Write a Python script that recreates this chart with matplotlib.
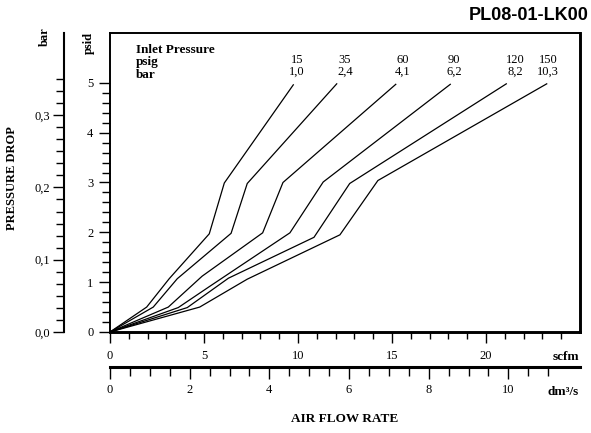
import numpy as np
import matplotlib.pyplot as plt
from matplotlib.ticker import FixedLocator

W, H = 591, 433
PSI_TO_BAR = 0.0689476
SCFM_TO_DM3S = 0.471947

# inlet pressure of each curve
inlet_psig = ["15", "35", "60", "90", "120", "150"]
inlet_bar = ["1,0", "2,4", "4,1", "6,2", "8,2", "10,3"]

# air flow (scfm) and pressure drop (psid)
flow_15 = [0, 1.95, 3.15, 5.28, 6.08, 9.75]
drop_15 = [0, 0.50, 1.07, 1.97, 2.99, 4.96]
flow_35 = [0, 2.30, 3.58, 6.44, 7.30, 12.06]
drop_35 = [0, 0.50, 1.07, 1.98, 2.98, 4.98]
flow_60 = [0, 3.10, 4.90, 8.12, 9.20, 15.20]
drop_60 = [0, 0.50, 1.12, 1.99, 3.00, 4.97]
flow_90 = [0, 3.63, 5.32, 9.57, 11.34, 18.10]
drop_90 = [0, 0.49, 0.92, 1.99, 3.01, 4.97]
flow_120 = [0, 4.11, 6.30, 10.85, 12.75, 21.08]
drop_120 = [0, 0.49, 1.08, 1.90, 2.98, 4.98]
flow_150 = [0, 4.77, 7.30, 12.23, 14.25, 23.23]
drop_150 = [0, 0.50, 1.06, 1.95, 3.04, 4.98]

flows = [flow_15, flow_35, flow_60, flow_90, flow_120, flow_150]
drops = [drop_15, drop_35, drop_60, drop_90, drop_120, drop_150]

# where the curve labels sit (pixels)
label_x = [297, 345, 403, 454, 515, 548]

plt.rcParams['font.family'] = 'Liberation Serif'
plt.rcParams['font.size'] = 9


def fx(x):
    return x / W


def fy(y):
    return 1 - y / H


fig = plt.figure(figsize=(W / 100, H / 100), dpi=100)
ax = fig.add_axes([fx(110), fy(332), (580 - 110) / W, (332 - 33) / H])

for flow, drop in zip(flows, drops):
    ax.plot(flow, drop, color='black', lw=0.9, solid_joinstyle='miter')

ax.set_xlim(0, 25)
ax.set_ylim(0, 6)
for side, lw in [('left', 1.4), ('top', 1.4), ('right', 2.1), ('bottom', 2.1)]:
    ax.spines[side].set_linewidth(lw)

# psid axis
ax.yaxis.set_major_locator(FixedLocator([0, 1, 2, 3, 4, 5]))
ax.yaxis.set_minor_locator(FixedLocator(np.arange(0, 5.01, 0.2)))
ax.tick_params(axis='y', which='major', length=8, width=1.0, pad=4, labelsize=9)
ax.tick_params(axis='y', which='minor', length=6, width=1.0)

# scfm axis
ax.xaxis.set_major_locator(FixedLocator([0, 5, 10, 15, 20]))
ax.xaxis.set_minor_locator(FixedLocator(np.arange(0, 24.5, 1)))
ax.tick_params(axis='x', which='major', length=8, width=1.0, pad=5, labelsize=9)
ax.tick_params(axis='x', which='minor', length=5, width=1.0)

# bar axis
axb = ax.twinx()
axb.set_ylim(0, 6 * PSI_TO_BAR)
axb.yaxis.set_ticks_position('left')
axb.spines['left'].set_position(('outward', 33.1))
axb.spines['left'].set_visible(True)
axb.spines['left'].set_linewidth(1.5)
for side in ['right', 'top', 'bottom']:
    axb.spines[side].set_visible(False)
axb.yaxis.set_major_locator(FixedLocator([0, 0.1, 0.2, 0.3]))
axb.set_yticklabels(['0,0', '0,1', '0,2', '0,3'])
axb.yaxis.set_minor_locator(FixedLocator(np.arange(0, 0.3551, 1 / 60)))
axb.tick_params(axis='y', which='major', length=8, width=1.0, pad=2, labelsize=9)
axb.tick_params(axis='y', which='minor', length=6, width=1.0)

# dm3/s axis
axd = ax.twiny()
axd.set_xlim(0, 25 * SCFM_TO_DM3S)
axd.xaxis.set_ticks_position('bottom')
axd.spines['bottom'].set_position(('outward', 25.2))
axd.spines['bottom'].set_visible(True)
axd.spines['bottom'].set_linewidth(2.2)
for side in ['right', 'top', 'left']:
    axd.spines[side].set_visible(False)
axd.xaxis.set_major_locator(FixedLocator([0, 2, 4, 6, 8, 10]))
axd.xaxis.set_minor_locator(FixedLocator(np.arange(0, 11.01, 0.5)))
axd.tick_params(axis='x', which='major', length=8.5, width=1.0, pad=4, labelsize=9)
axd.tick_params(axis='x', which='minor', length=6.5, width=1.0)

# texts
bold = dict(fontweight='bold')
fig.text(fx(136), fy(53), 'Inlet Pressure', fontsize=9.5, ha='left', va='baseline', **bold)
fig.text(fx(136), fy(65.5), 'psig', fontsize=9.5, ha='left', va='baseline', **bold)
fig.text(fx(136), fy(78), 'bar', fontsize=9.5, ha='left', va='baseline', **bold)
for lx, p, b in zip(label_x, inlet_psig, inlet_bar):
    fig.text(fx(lx), fy(63), p, fontsize=9, ha='center', va='baseline')
    fig.text(fx(lx), fy(75), b, fontsize=9, ha='center', va='baseline')

fig.text(fx(589), fy(20), 'PL08-01-LK00', family='Liberation Sans', fontsize=13,
         ha='right', va='baseline', **bold)
fig.text(fx(45), fy(37), 'bar', fontsize=9, rotation=90, ha='center', va='center', **bold)
fig.text(fx(89), fy(43), 'psid', fontsize=9, rotation=90, ha='center', va='center', **bold)
fig.text(fx(12.5), fy(178), 'PRESSURE DROP', fontsize=9, rotation=90, ha='center', va='center', **bold)
fig.text(fx(345), fy(419), 'AIR FLOW RATE', fontsize=9.5, ha='center', va='center', **bold)
fig.text(fx(579), fy(357), 'scfm', fontsize=9.5, ha='right', va='center', **bold)
fig.text(fx(579), fy(392), 'dm³/s', fontsize=9.5, ha='right', va='center', **bold)

fig.savefig('out.png', dpi=100)
